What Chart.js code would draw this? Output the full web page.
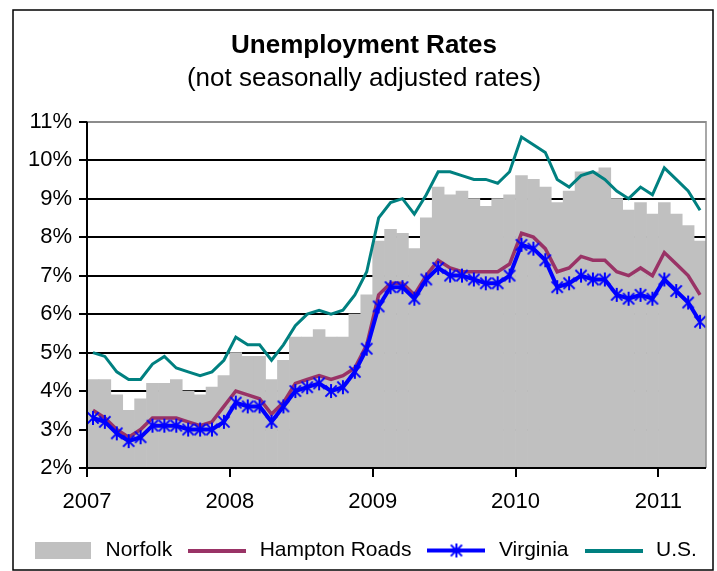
<!DOCTYPE html>
<html>
<head>
<meta charset="utf-8">
<title>Unemployment Rates</title>
<script src="https://cdn.jsdelivr.net/npm/chart.js@4.4.1/dist/chart.umd.min.js"></script>
<style>
  html, body { margin: 0; padding: 0; background: #fff; }
  #wrap { width: 717px; height: 571px; position: relative; }
</style>
</head>
<body>
<div id="wrap"><canvas id="chart" width="717" height="571"></canvas></div>
<script>
// Year labels on the category axis (one tick at the start of each year)
const years = ['2007', '2008', '2009', '2010', '2011'];
const monthNames = ['Jan', 'Feb', 'Mar', 'Apr', 'May', 'Jun', 'Jul', 'Aug', 'Sep', 'Oct', 'Nov', 'Dec'];
// Monthly categories, Jan 2007 through Apr 2011
const months = [];
years.forEach(y => monthNames.forEach(m => months.push(m + ' ' + y)));
months.length = 52;

// Value axis ticks (percent)
const rateTicks = [2, 3, 4, 5, 6, 7, 8, 9, 10, 11];

// Unemployment rates, not seasonally adjusted (%)
const norfolk = [
  4.3, 4.3, 3.9, 3.5, 3.8, 4.2, 4.2, 4.3, 4.0, 3.9, 4.1, 4.4,
  5.0, 4.9, 4.9, 4.3, 4.8, 5.4, 5.4, 5.6, 5.4, 5.4, 6.0, 6.5,
  7.9, 8.2, 8.1, 7.7, 8.5, 9.3, 9.1, 9.2, 9.0, 8.8, 9.0, 9.1,
  9.6, 9.5, 9.3, 8.9, 9.2, 9.7, 9.7, 9.8, 9.0, 8.7, 8.9, 8.6,
  8.9, 8.6, 8.3, 7.9
];
const hamptonRoads = [
  3.5, 3.3, 3.0, 2.8, 3.0, 3.3, 3.3, 3.3, 3.2, 3.1, 3.2, 3.6,
  4.0, 3.9, 3.8, 3.4, 3.7, 4.2, 4.3, 4.4, 4.3, 4.4, 4.6, 5.2,
  6.5, 6.8, 6.8, 6.5, 7.0, 7.4, 7.2, 7.1, 7.1, 7.1, 7.1, 7.3,
  8.1, 8.0, 7.7, 7.1, 7.2, 7.5, 7.4, 7.4, 7.1, 7.0, 7.2, 7.0,
  7.6, 7.3, 7.0, 6.5
];
const virginia = [
  3.3, 3.2, 2.9, 2.7, 2.8, 3.1, 3.1, 3.1, 3.0, 3.0, 3.0, 3.2,
  3.7, 3.6, 3.6, 3.2, 3.6, 4.0, 4.1, 4.2, 4.0, 4.1, 4.5, 5.1,
  6.2, 6.7, 6.7, 6.4, 6.9, 7.2, 7.0, 7.0, 6.9, 6.8, 6.8, 7.0,
  7.8, 7.7, 7.4, 6.7, 6.8, 7.0, 6.9, 6.9, 6.5, 6.4, 6.5, 6.4,
  6.9, 6.6, 6.3, 5.8
];
const us = [
  5.0, 4.9, 4.5, 4.3, 4.3, 4.7, 4.9, 4.6, 4.5, 4.4, 4.5, 4.8,
  5.4, 5.2, 5.2, 4.8, 5.2, 5.7, 6.0, 6.1, 6.0, 6.1, 6.5, 7.1,
  8.5, 8.9, 9.0, 8.6, 9.1, 9.7, 9.7, 9.6, 9.5, 9.5, 9.4, 9.7,
  10.6, 10.4, 10.2, 9.5, 9.3, 9.6, 9.7, 9.5, 9.2, 9.0, 9.3, 9.1,
  9.8, 9.5, 9.2, 8.7
];

const GRAY = '#C0C0C0', MAROON = '#993366', BLUE = '#0000FF', TEAL = '#008080';
const FONT = "'Liberation Sans', Arial, Helvetica, sans-serif";

// Asterisk marker: vertical stroke plus an X
function drawStar(g, cx, cy, r, lw, color) {
  g.strokeStyle = color; g.lineWidth = lw; g.lineCap = 'butt';
  const d = r * 0.8;
  g.beginPath();
  g.moveTo(cx, cy - r); g.lineTo(cx, cy + r);
  g.moveTo(cx - d, cy - d); g.lineTo(cx + d, cy + d);
  g.moveTo(cx + d, cy - d); g.lineTo(cx - d, cy + d);
  g.stroke();
}
function makeCanvas(w, h, paint) {
  const c = document.createElement('canvas');
  c.width = w; c.height = h;
  paint(c.getContext('2d'), w, h);
  return c;
}
const starMarker = makeCanvas(16, 16, (g, w, h) => drawStar(g, w / 2, h / 2, 7, 2, BLUE));

// Legend swatches
const legendIcons = [
  makeCanvas(56, 17, (g, w, h) => { g.fillStyle = GRAY; g.fillRect(0, 0, w, h); }),
  makeCanvas(58, 4, (g, w, h) => { g.fillStyle = MAROON; g.fillRect(0, 0, w, h); }),
  makeCanvas(58, 16, (g, w, h) => {
    g.fillStyle = BLUE; g.fillRect(0, h / 2 - 2, w, 4);
    drawStar(g, w / 2, h / 2, 7, 2, BLUE);
  }),
  makeCanvas(58, 4, (g, w, h) => { g.fillStyle = TEAL; g.fillRect(0, 0, w, h); })
];

// Plot-area edges and the outer chart frame
const framePlugin = {
  id: 'frame',
  afterDatasetsDraw(chart) {
    const { ctx, chartArea: a } = chart;
    ctx.save();
    ctx.strokeStyle = '#8c8c8c';
    ctx.lineWidth = 1.5;
    ctx.beginPath();
    ctx.moveTo(a.left, a.top); ctx.lineTo(a.right, a.top); ctx.lineTo(a.right, a.bottom);
    ctx.stroke();
    ctx.strokeStyle = '#000';
    ctx.lineWidth = 2;
    ctx.beginPath();
    ctx.moveTo(a.left, a.top); ctx.lineTo(a.left, a.bottom); ctx.lineTo(a.right, a.bottom);
    ctx.stroke();
    ctx.restore();
  },
  afterDraw(chart) {
    const { ctx } = chart;
    ctx.save();
    ctx.strokeStyle = '#000';
    ctx.lineWidth = 1.5;
    ctx.strokeRect(13, 10, 700, 560);
    ctx.restore();
  }
};

new Chart(document.getElementById('chart'), {
  type: 'bar',
  data: {
    labels: months,
    datasets: [
      {
        type: 'bar', label: 'Norfolk', data: norfolk, xAxisID: 'x', yAxisID: 'y',
        backgroundColor: GRAY, borderWidth: 0, barPercentage: 1, categoryPercentage: 1, order: 4
      },
      {
        type: 'line', label: 'Hampton Roads', data: hamptonRoads, xAxisID: 'x', yAxisID: 'y',
        borderColor: MAROON, borderWidth: 3.5, pointRadius: 0, tension: 0, fill: false, order: 2
      },
      {
        type: 'line', label: 'Virginia', data: virginia, xAxisID: 'x', yAxisID: 'y',
        borderColor: BLUE, borderWidth: 4, pointStyle: starMarker, pointRadius: 7,
        tension: 0, fill: false, order: 1
      },
      {
        type: 'line', label: 'U.S.', data: us, xAxisID: 'x', yAxisID: 'y',
        borderColor: TEAL, borderWidth: 3, pointRadius: 0, tension: 0, fill: false, order: 3
      }
    ]
  },
  options: {
    responsive: false,
    animation: false,
    devicePixelRatio: 1,
    layout: { padding: { top: 10, left: 14, right: 3, bottom: 0 } },
    font: { family: FONT },
    scales: {
      x: { type: 'category', display: false, offset: true },
      years: {
        type: 'linear', position: 'bottom', axis: 'x',
        offset: false,
        min: 0, max: months.length,
        afterBuildTicks: s => { s.ticks = years.map((_, i) => ({ value: i * 12 })); },
        afterFit: s => { s.height = 59; },
        ticks: {
          callback: (v, i) => years[i],
          color: '#000', font: { family: FONT, size: 22 }, padding: 12,
          maxRotation: 0, autoSkip: false
        },
        grid: {
          offset: false, drawOnChartArea: false, drawTicks: true, tickLength: 9,
          tickColor: '#000', tickWidth: 2, lineWidth: 2, color: '#000'
        },
        border: { display: false }
      },
      y: {
        type: 'linear', position: 'left',
        min: rateTicks[0], max: rateTicks[rateTicks.length - 1],
        afterBuildTicks: s => { s.ticks = rateTicks.map(v => ({ value: v })); },
        afterFit: s => { s.width = 73; },
        ticks: {
          callback: v => v + '%',
          color: '#000', font: { family: FONT, size: 22 }, padding: 7
        },
        grid: {
          color: c => (c.tick && c.tick.value === rateTicks[rateTicks.length - 1]) ? '#8c8c8c' : '#000',
          lineWidth: 2, tickLength: 8, tickColor: '#000', tickWidth: 2
        },
        border: { display: false }
      },
      edge: {
        type: 'linear', position: 'right', min: 0, max: 1,
        afterFit: s => { s.width = 8; },
        ticks: { display: false },
        grid: { display: false },
        border: { display: false }
      }
    },
    plugins: {
      title: {
        display: true, text: 'Unemployment Rates', color: '#000',
        font: { family: FONT, size: 26, weight: 'bold' },
        padding: { top: 20, bottom: 2 }
      },
      subtitle: {
        display: true, text: '(not seasonally adjusted rates)', color: '#000',
        font: { family: FONT, size: 26, weight: 'normal' },
        padding: { top: 0, bottom: 27.3 }
      },
      legend: {
        display: true, position: 'bottom',
        labels: {
          usePointStyle: true, pointStyleWidth: 64, padding: 13,
          color: '#000', font: { family: FONT, size: 21 },
          generateLabels: chart => chart.data.datasets.map((ds, i) => ({
            text: ds.label, pointStyle: legendIcons[i], datasetIndex: i,
            hidden: false, lineWidth: 0, strokeStyle: 'rgba(0,0,0,0)', fillStyle: 'rgba(0,0,0,0)'
          }))
        }
      },
      tooltip: { enabled: false }
    }
  },
  plugins: [framePlugin]
});
</script>
</body>
</html>
